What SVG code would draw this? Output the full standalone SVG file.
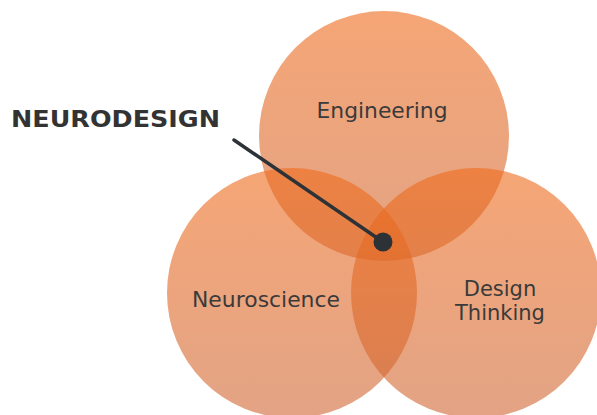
<svg xmlns="http://www.w3.org/2000/svg" width="597" height="415" viewBox="0 0 597 415">
  <defs>
    <linearGradient id="discFill" x1="0" y1="0" x2="0" y2="1">
      <stop offset="0" stop-color="#ef6a1a"/>
      <stop offset="1" stop-color="#cf6633"/>
    </linearGradient>
  </defs>
  <style>
    .disc { fill: url(#discFill); fill-opacity: 0.6; }
    .label { font-family: "DejaVu Sans", Verdana, sans-serif; font-size: 21px; fill: #3a3a3a; text-anchor: middle; }
    .title { font-family: "DejaVu Sans", Verdana, sans-serif; font-size: 23px; font-weight: bold; fill: #333333; }
    .pointer { stroke: #2d3236; stroke-width: 3.5; stroke-linecap: round; fill: none; }
  </style>
  <rect width="597" height="415" fill="#ffffff"/>

  <g id="engineering">
    <circle class="disc" cx="384" cy="136" r="125"/>
    <text class="label" x="382" y="118" textLength="131" lengthAdjust="spacingAndGlyphs">Engineering</text>
  </g>
  <g id="neuroscience">
    <circle class="disc" cx="292" cy="293" r="125"/>
    <text class="label" x="266" y="307" textLength="148" lengthAdjust="spacingAndGlyphs">Neuroscience</text>
  </g>
  <g id="design-thinking">
    <circle class="disc" cx="476" cy="293" r="125"/>
    <text class="label" x="500" y="296">Design</text>
    <text class="label" x="500" y="320">Thinking</text>
  </g>

  <g id="neurodesign">
    <text class="title" x="11" y="127" textLength="209" lengthAdjust="spacingAndGlyphs">NEURODESIGN</text>
  </g>

  <g id="connectors">
    <line class="pointer" x1="234" y1="140" x2="383" y2="242"/>
    <circle cx="383" cy="242" r="9.5" fill="#2d3236"/>
  </g>
</svg>
